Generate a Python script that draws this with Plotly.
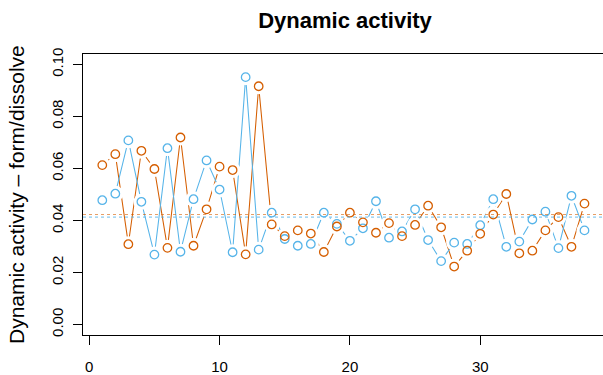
import plotly.graph_objects as go

# ---- data ----
index = list(range(1, 39))
form_values = [0.0478, 0.0503, 0.0708, 0.0472, 0.0269, 0.0678, 0.0280, 0.0482, 0.0631, 0.0519,
               0.0278, 0.0951, 0.0288, 0.0430, 0.0329, 0.0303, 0.0310, 0.0430, 0.0387, 0.0322,
               0.0370, 0.0474, 0.0334, 0.0358, 0.0443, 0.0325, 0.0244, 0.0315, 0.0310, 0.0382,
               0.0482, 0.0299, 0.0319, 0.0404, 0.0434, 0.0294, 0.0495, 0.0362]
dissolve_values = [0.0613, 0.0655, 0.0309, 0.0668, 0.0598, 0.0295, 0.0719, 0.0303, 0.0443, 0.0607,
                   0.0594, 0.0270, 0.0916, 0.0385, 0.0340, 0.0362, 0.0350, 0.0279, 0.0377, 0.0430,
                   0.0393, 0.0353, 0.0390, 0.0340, 0.0383, 0.0457, 0.0374, 0.0223, 0.0284, 0.0349,
                   0.0423, 0.0502, 0.0274, 0.0284, 0.0362, 0.0413, 0.0299, 0.0465]
x_ticks = [0, 10, 20, 30]
y_ticks = [0.00, 0.02, 0.04, 0.06, 0.08, 0.10]
title_text = "Dynamic activity"
ylabel_text = "Dynamic activity \u2013 form/dissolve"

BLUE = "#56B4E9"
ORANGE = "#D55E00"
FONT = "Liberation Sans, Arial, sans-serif"

fig = go.Figure()

# connecting lines
for vals, col in [(dissolve_values, ORANGE), (form_values, BLUE)]:
    fig.add_trace(go.Scatter(x=index, y=vals, mode="lines",
                             line=dict(color=col, width=1.05),
                             hoverinfo="skip", showlegend=False))
# white halos to emulate R type="b" gaps
for vals in [dissolve_values, form_values]:
    fig.add_trace(go.Scatter(x=index, y=vals, mode="markers",
                             marker=dict(symbol="circle", size=16, color="white",
                                         line=dict(width=0)),
                             hoverinfo="skip", showlegend=False))
# open circles
for vals, col in [(form_values, BLUE), (dissolve_values, ORANGE)]:
    fig.add_trace(go.Scatter(x=index, y=vals, mode="markers",
                             marker=dict(symbol="circle-open", size=8.5, color=col,
                                         line=dict(width=1.3, color=col)),
                             showlegend=False))

# mean lines
for vals, col in [(form_values, "rgba(86,180,233,0.7)"), (dissolve_values, "rgba(213,94,0,0.6)")]:
    m = sum(vals) / len(vals)
    fig.add_shape(type="line", xref="paper", x0=0, x1=1, yref="y", y0=m, y1=m,
                  line=dict(color=col, width=1.1, dash="dot"), layer="above")

fig.update_layout(
    width=603, height=375,
    margin=dict(l=82.5, r=0, t=54, b=33, pad=0),
    paper_bgcolor="white", plot_bgcolor="white",
    font=dict(family=FONT, color="black"),
    title=dict(text="<b>" + title_text + "</b>", font=dict(size=22, family=FONT, color="black"),
               x=345 / 603, xref="container", xanchor="center",
               y=1 - 20 / 375, yref="container", yanchor="middle"),
    showlegend=False,
)
fig.update_xaxes(range=[-0.48, 39.42], tickvals=x_ticks, ticktext=[str(v) for v in x_ticks],
                 showgrid=False, zeroline=False, showline=True, linecolor="black", linewidth=1,
                 mirror=True, ticks="outside", ticklen=9, tickcolor="black", tickwidth=1,
                 tickfont=dict(size=15, family=FONT, color="black"), ticklabelstandoff=9)
fig.update_yaxes(range=[-0.004, 0.104], tickvals=y_ticks, ticktext=["%.2f" % v for v in y_ticks],
                 showgrid=False, zeroline=False, showline=True, linecolor="black", linewidth=1,
                 ticks="outside", ticklen=9, tickcolor="black", tickwidth=1, tickangle=-90,
                 tickfont=dict(size=15, family=FONT, color="black"), ticklabelstandoff=4)

fig.add_annotation(text=ylabel_text, textangle=-90, xref="paper", yref="paper",
                   x=0, y=0.5, xanchor="center", yanchor="middle", xshift=-(82.5 - 16),
                   showarrow=False, font=dict(size=21, family=FONT, color="black"))

fig.write_html("out.html")
